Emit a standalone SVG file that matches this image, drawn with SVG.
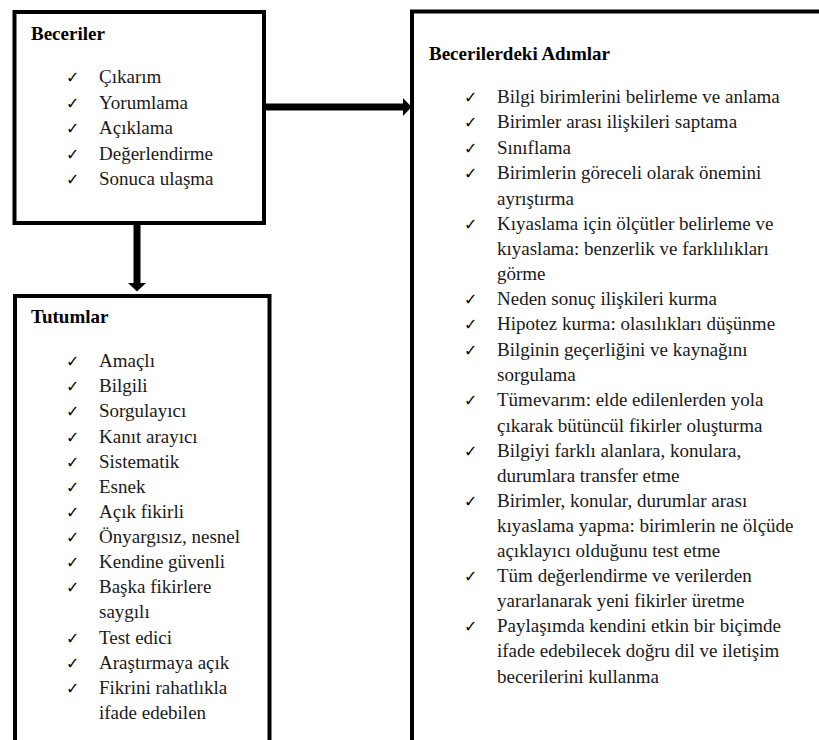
<svg xmlns="http://www.w3.org/2000/svg" width="819" height="740" viewBox="0 0 819 740">
<style>
.box{fill:#fff;stroke:#000;stroke-width:4}
.title{font-size:19px;font-weight:bold;fill:#000}
.item{font-size:19px;fill:#1a1a1a}
.chk{font-size:16px;fill:#000}
.conn{stroke:#000;stroke-width:7;fill:none}
</style>
<defs>
<marker id="ah" markerUnits="userSpaceOnUse" markerWidth="9" markerHeight="18" refX="0" refY="9" orient="auto" overflow="visible">
<path d="M0,0 L8.5,9 L0,18 Z" fill="#000"/>
</marker>
</defs>
<rect width="819" height="740" fill="#fff"/>
<g id="connectors">
<line class="conn" x1="266" y1="107" x2="403" y2="107" marker-end="url(#ah)"/>
<line class="conn" x1="137" y1="225" x2="137" y2="283" marker-end="url(#ah)"/>
</g>
<g id="beceriler">
<rect class="box" x="14.5" y="12" width="249.5" height="211"/>
<text class="title" font-family="'Liberation Serif', serif" x="31" y="40">Beceriler</text>
<text class="chk" font-family="'DejaVu Sans', sans-serif" x="66" y="83">✓</text>
<text class="chk" font-family="'DejaVu Sans', sans-serif" x="66" y="108.5">✓</text>
<text class="chk" font-family="'DejaVu Sans', sans-serif" x="66" y="134">✓</text>
<text class="chk" font-family="'DejaVu Sans', sans-serif" x="66" y="159.5">✓</text>
<text class="chk" font-family="'DejaVu Sans', sans-serif" x="66" y="185">✓</text>
<text class="item" font-family="'Liberation Serif', serif" x="99" y="83">Çıkarım</text>
<text class="item" font-family="'Liberation Serif', serif" x="99" y="108.5">Yorumlama</text>
<text class="item" font-family="'Liberation Serif', serif" x="99" y="134">Açıklama</text>
<text class="item" font-family="'Liberation Serif', serif" x="99" y="159.5">Değerlendirme</text>
<text class="item" font-family="'Liberation Serif', serif" x="99" y="185">Sonuca ulaşma</text>
</g>
<g id="tutumlar">
<rect class="box" x="15" y="296" width="254.5" height="460"/>
<text class="title" font-family="'Liberation Serif', serif" x="31" y="323">Tutumlar</text>
<text class="chk" font-family="'DejaVu Sans', sans-serif" x="66" y="367">✓</text>
<text class="chk" font-family="'DejaVu Sans', sans-serif" x="66" y="392">✓</text>
<text class="chk" font-family="'DejaVu Sans', sans-serif" x="66" y="417">✓</text>
<text class="chk" font-family="'DejaVu Sans', sans-serif" x="66" y="442.5">✓</text>
<text class="chk" font-family="'DejaVu Sans', sans-serif" x="66" y="467.5">✓</text>
<text class="chk" font-family="'DejaVu Sans', sans-serif" x="66" y="492.5">✓</text>
<text class="chk" font-family="'DejaVu Sans', sans-serif" x="66" y="518">✓</text>
<text class="chk" font-family="'DejaVu Sans', sans-serif" x="66" y="543">✓</text>
<text class="chk" font-family="'DejaVu Sans', sans-serif" x="66" y="568">✓</text>
<text class="chk" font-family="'DejaVu Sans', sans-serif" x="66" y="593">✓</text>
<text class="chk" font-family="'DejaVu Sans', sans-serif" x="66" y="643.5">✓</text>
<text class="chk" font-family="'DejaVu Sans', sans-serif" x="66" y="669">✓</text>
<text class="chk" font-family="'DejaVu Sans', sans-serif" x="66" y="694">✓</text>
<text class="item" font-family="'Liberation Serif', serif" x="99" y="367">Amaçlı</text>
<text class="item" font-family="'Liberation Serif', serif" x="99" y="392">Bilgili</text>
<text class="item" font-family="'Liberation Serif', serif" x="99" y="417">Sorgulayıcı</text>
<text class="item" font-family="'Liberation Serif', serif" x="99" y="442.5">Kanıt arayıcı</text>
<text class="item" font-family="'Liberation Serif', serif" x="99" y="467.5">Sistematik</text>
<text class="item" font-family="'Liberation Serif', serif" x="99" y="492.5">Esnek</text>
<text class="item" font-family="'Liberation Serif', serif" x="99" y="518">Açık fikirli</text>
<text class="item" font-family="'Liberation Serif', serif" x="99" y="543">Önyargısız, nesnel</text>
<text class="item" font-family="'Liberation Serif', serif" x="99" y="568">Kendine güvenli</text>
<text class="item" font-family="'Liberation Serif', serif" x="99" y="593">Başka fikirlere</text>
<text class="item" font-family="'Liberation Serif', serif" x="99" y="618">saygılı</text>
<text class="item" font-family="'Liberation Serif', serif" x="99" y="643.5">Test edici</text>
<text class="item" font-family="'Liberation Serif', serif" x="99" y="669">Araştırmaya açık</text>
<text class="item" font-family="'Liberation Serif', serif" x="99" y="694">Fikrini rahatlıkla</text>
<text class="item" font-family="'Liberation Serif', serif" x="99" y="719">ifade edebilen</text>
</g>
<g id="adimlar">
<rect class="box" x="412" y="11.5" width="420" height="745"/>
<text class="title" font-family="'Liberation Serif', serif" x="429" y="60">Becerilerdeki Adımlar</text>
<text class="chk" font-family="'DejaVu Sans', sans-serif" x="464" y="103">✓</text>
<text class="chk" font-family="'DejaVu Sans', sans-serif" x="464" y="128">✓</text>
<text class="chk" font-family="'DejaVu Sans', sans-serif" x="464" y="153.5">✓</text>
<text class="chk" font-family="'DejaVu Sans', sans-serif" x="464" y="179">✓</text>
<text class="chk" font-family="'DejaVu Sans', sans-serif" x="464" y="229.5">✓</text>
<text class="chk" font-family="'DejaVu Sans', sans-serif" x="464" y="305">✓</text>
<text class="chk" font-family="'DejaVu Sans', sans-serif" x="464" y="330">✓</text>
<text class="chk" font-family="'DejaVu Sans', sans-serif" x="464" y="355.5">✓</text>
<text class="chk" font-family="'DejaVu Sans', sans-serif" x="464" y="406">✓</text>
<text class="chk" font-family="'DejaVu Sans', sans-serif" x="464" y="456.5">✓</text>
<text class="chk" font-family="'DejaVu Sans', sans-serif" x="464" y="507">✓</text>
<text class="chk" font-family="'DejaVu Sans', sans-serif" x="464" y="582">✓</text>
<text class="chk" font-family="'DejaVu Sans', sans-serif" x="464" y="632">✓</text>
<text class="item" font-family="'Liberation Serif', serif" x="497" y="103">Bilgi birimlerini belirleme ve anlama</text>
<text class="item" font-family="'Liberation Serif', serif" x="497" y="128">Birimler arası ilişkileri saptama</text>
<text class="item" font-family="'Liberation Serif', serif" x="497" y="153.5">Sınıflama</text>
<text class="item" font-family="'Liberation Serif', serif" x="497" y="179">Birimlerin göreceli olarak önemini</text>
<text class="item" font-family="'Liberation Serif', serif" x="497" y="204.5">ayrıştırma</text>
<text class="item" font-family="'Liberation Serif', serif" x="497" y="229.5">Kıyaslama için ölçütler belirleme ve</text>
<text class="item" font-family="'Liberation Serif', serif" x="497" y="255">kıyaslama: benzerlik ve farklılıkları</text>
<text class="item" font-family="'Liberation Serif', serif" x="497" y="280">görme</text>
<text class="item" font-family="'Liberation Serif', serif" x="497" y="305">Neden sonuç ilişkileri kurma</text>
<text class="item" font-family="'Liberation Serif', serif" x="497" y="330">Hipotez kurma: olasılıkları düşünme</text>
<text class="item" font-family="'Liberation Serif', serif" x="497" y="355.5">Bilginin geçerliğini ve kaynağını</text>
<text class="item" font-family="'Liberation Serif', serif" x="497" y="381">sorgulama</text>
<text class="item" font-family="'Liberation Serif', serif" x="497" y="406">Tümevarım: elde edilenlerden yola</text>
<text class="item" font-family="'Liberation Serif', serif" x="497" y="431.5">çıkarak bütüncül fikirler oluşturma</text>
<text class="item" font-family="'Liberation Serif', serif" x="497" y="456.5">Bilgiyi farklı alanlara, konulara,</text>
<text class="item" font-family="'Liberation Serif', serif" x="497" y="482">durumlara transfer etme</text>
<text class="item" font-family="'Liberation Serif', serif" x="497" y="507">Birimler, konular, durumlar arası</text>
<text class="item" font-family="'Liberation Serif', serif" x="497" y="532">kıyaslama yapma: birimlerin ne ölçüde</text>
<text class="item" font-family="'Liberation Serif', serif" x="497" y="557">açıklayıcı olduğunu test etme</text>
<text class="item" font-family="'Liberation Serif', serif" x="497" y="582">Tüm değerlendirme ve verilerden</text>
<text class="item" font-family="'Liberation Serif', serif" x="497" y="607">yararlanarak yeni fikirler üretme</text>
<text class="item" font-family="'Liberation Serif', serif" x="497" y="632">Paylaşımda kendini etkin bir biçimde</text>
<text class="item" font-family="'Liberation Serif', serif" x="497" y="657">ifade edebilecek doğru dil ve iletişim</text>
<text class="item" font-family="'Liberation Serif', serif" x="497" y="682.5">becerilerini kullanma</text>
</g>
</svg>
